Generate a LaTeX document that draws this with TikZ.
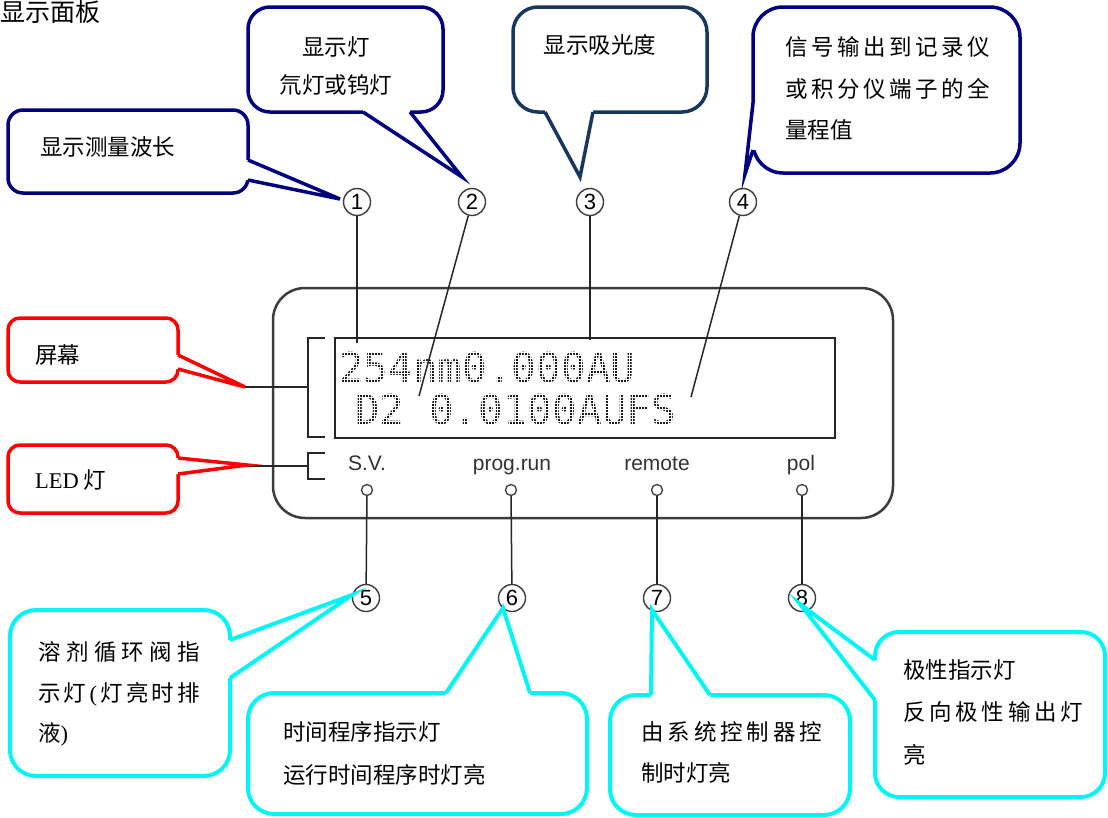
\documentclass[tikz,border=0pt]{standalone}
\usepackage{fontspec}
\setmainfont{Liberation Serif}
\setsansfont{Liberation Sans}
\setmonofont{DejaVu Sans Mono}
\newfontfamily\cjk{Noto Sans CJK SC}
\usetikzlibrary{calc}
\definecolor{navyc}{RGB}{0,0,128}
\definecolor{slatec}{RGB}{23,55,94}
\definecolor{redc}{RGB}{255,0,0}
\definecolor{cyanc}{RGB}{0,245,245}
\definecolor{panelc}{RGB}{60,60,60}
\makeatletter
\newcommand\spreadline[2]{\makebox[#1][s]{\def\sl@sep{}\@tfor\sl@c:=#2\do{\sl@sep\sl@c\def\sl@sep{\hfil}}}}
\makeatother
\newcommand\lpar{{\rmfamily(}}
\newcommand\rpar{{\rmfamily)}}
% callout: style, corner1, corner2, base1, tip, base2, inward shift
\newcommand\callout[7]{%
  \draw[#1] #2 rectangle #3;
  \fill[white] #4 -- #5 -- #6 -- ($#6+#7$) -- ($#4+#7$) -- cycle;
  \draw[#1, fill=none, line join=miter, sharp corners] #4 -- #5 -- #6;}
\begin{document}
\begin{tikzpicture}[x=1pt,y=-1pt,
  navybox/.style={draw=navyc, line width=3.5pt, fill=white, rounded corners=22pt},
  slatebox/.style={draw=slatec, line width=3.5pt, fill=white, rounded corners=25pt},
  redbox/.style={draw=redc, line width=3.5pt, fill=white, rounded corners=12pt},
  cyanbox/.style={draw=cyanc, line width=4pt, fill=white, rounded corners=26pt},
  ctext/.style={anchor=base west, inner sep=0pt, font=\cjk\fontsize{22.5}{27}\selectfont},
  ctextc/.style={ctext, anchor=base},
  numc/.style={circle, draw=panelc, line width=1.4pt, minimum size=27pt, inner sep=0pt,
    font=\sffamily\fontsize{22}{24}\selectfont},
  ledc/.style={circle, draw=panelc, line width=1.3pt, minimum size=11pt, inner sep=0pt},
  ledlab/.style={anchor=base, inner sep=0pt, text=black!80, font=\sffamily\fontsize{21}{24}\selectfont},
  lead/.style={draw=black!85, line width=1.5pt},
  dline/.style={draw=black!85, line width=2pt},
  dm/.style={anchor=base west, inner sep=0pt, text=black!90, font=\ttfamily\fontsize{41}{44}\selectfont}
]
\useasboundingbox (0,0) rectangle (1108,817);
\fill[white] (0,0) rectangle (1108,817);

% title
\node[anchor=north west, inner sep=0pt, font=\cjk\fontsize{25}{28}\selectfont] (title) at (0,0) {显示面板};

% panel
\draw[draw=panelc, line width=2.5pt, rounded corners=32pt] (273,288) rectangle (893,518);

% dot-matrix display text
\node[dm] (d1) at (339,382) {254nm0.000AU};
\node[dm] (d2) at (355,424) {D2 0.0100AUFS};
\foreach \y in {343,346,...,436} \draw[white, line width=1pt] (338,\y) -- (700,\y);
\foreach \x in {338,341,...,700} \draw[white, line width=1pt] (\x,343) -- (\x,436);
\draw[dline] (335,338) rectangle (835,438);

% brackets
\draw[dline] (325,338) -- (308,338) -- (308,437) -- (325,437);
\draw[dline] (325,453) -- (308,453) -- (308,479) -- (325,479);
\coordinate (scrL) at (245,387); \coordinate (scrB) at (308,387);
\coordinate (ledL) at (247,466); \coordinate (ledB) at (308,466);
\draw[dline] (scrL) -- (scrB);
\draw[dline] (ledL) -- (ledB);

% LED labels and lamps
\node[ledlab] (s1) at (367,470) {S.V.};
\node[ledlab] (s2) at (512,470) {prog.run};
\node[ledlab] (s3) at (657,470) {remote};
\node[ledlab] (s4) at (801,470) {pol};
\node[ledc] (l1) at (367,490) {};
\node[ledc] (l2) at (511,490) {};
\node[ledc] (l3) at (657,490) {};
\node[ledc] (l4) at (802,490) {};

% numbered circles
\node[numc] (n1) at (357,202) {1};
\node[numc] (n2) at (472,202) {2};
\node[numc] (n3) at (590,202) {3};
\node[numc] (n4) at (743,202) {4};
\node[numc] (n5) at (366,598) {5};
\node[numc] (n6) at (512,598) {6};
\node[numc] (n7) at (657,598) {7};
\node[numc] (n8) at (802,598) {8};

% leader lines
\coordinate (e1) at (357,343);
\coordinate (e2) at (419,396);
\coordinate (e3) at (590,340);
\coordinate (e4) at (691,397);
\draw[lead] (n1) -- (e1);
\draw[lead] (n2) -- (e2);
\draw[lead] (n3) -- (e3);
\draw[lead] (n4) -- (e4);
\draw[lead] (l1) -- (n5);
\draw[lead] (l2) -- (n6);
\draw[lead] (l3) -- (n7);
\draw[lead] (l4) -- (n8);

% callouts
\callout{navybox, rounded corners=15pt}{(8,110)}{(248,193)}{(248,160)}{(340,199)}{(248,180)}{(-4,0)}
\callout{navybox}{(248,7)}{(443,112)}{(363,112)}{(462,177)}{(410,112)}{(0,-4)}
\callout{slatebox}{(513,7)}{(707,112)}{(545,112)}{(580,177)}{(593,112)}{(0,-4)}
\callout{navybox, rounded corners=30pt}{(753,7)}{(1020,173)}{(753,103)}{(745,174)}{(753,150)}{(4,0)}
\callout{redbox}{(8,318)}{(178,382)}{(178,355)}{(245,387)}{(178,369)}{(-4,0)}
\callout{redbox}{(8,445)}{(178,513)}{(178,458)}{(247,465)}{(178,474)}{(-4,0)}
\callout{cyanbox}{(10,610)}{(230,776)}{(230,640)}{(352,595)}{(230,678)}{(-4,0)}
\callout{cyanbox}{(248,693)}{(587,814)}{(446,693)}{(503,608)}{(530,693)}{(0,4)}
\callout{cyanbox}{(610,695)}{(850,815)}{(651,695)}{(652,610)}{(710,695)}{(0,4)}
\callout{cyanbox, rounded corners=24pt}{(875,632)}{(1105,797)}{(875,660)}{(800,604)}{(875,700)}{(4,0)}

% callout texts
\node[ctext] (t1) at (40,155.5) {显示测量波长};
\node[ctextc] (t2a) at (336,55.5) {显示灯};
\node[ctextc] (t2b) at (336,93.5) {氘灯或钨灯};
\node[ctextc] (t3) at (600,53.5) {显示吸光度};
\node[ctext] (t4a) at (785,55.5) {\spreadline{205pt}{信号输出到记录仪}};
\node[ctext] (t4b) at (785,97) {\spreadline{205pt}{或积分仪端子的全}};
\node[ctext] (t4c) at (785,138.5) {量程值};
\node[ctext] (tscr) at (35,363.5) {屏幕};
\node[ctext] (tled) at (35,488) {{\rmfamily\fontsize{22.5}{27}\selectfont LED} 灯};
\node[ctext] (t5a) at (38,660.5) {\spreadline{162pt}{溶剂循环阀指}};
\node[ctext] (t5b) at (38,701.5) {\spreadline{162pt}{示灯\lpar 灯亮时排}};
\node[ctext] (t5c) at (38,741.5) {液\rpar};
\node[ctext] (t6a) at (283,740.5) {时间程序指示灯};
\node[ctext] (t6b) at (283,783.5) {运行时间程序时灯亮};
\node[ctext] (t7a) at (641,740.5) {\spreadline{181pt}{由系统控制器控}};
\node[ctext] (t7b) at (641,781.5) {制时灯亮};
\node[ctext] (t8a) at (903,678.5) {极性指示灯};
\node[ctext] (t8b) at (903,720.5) {\spreadline{180pt}{反向极性输出灯}};
\node[ctext] (t8c) at (903,763.5) {亮};
\end{tikzpicture}
\end{document}
